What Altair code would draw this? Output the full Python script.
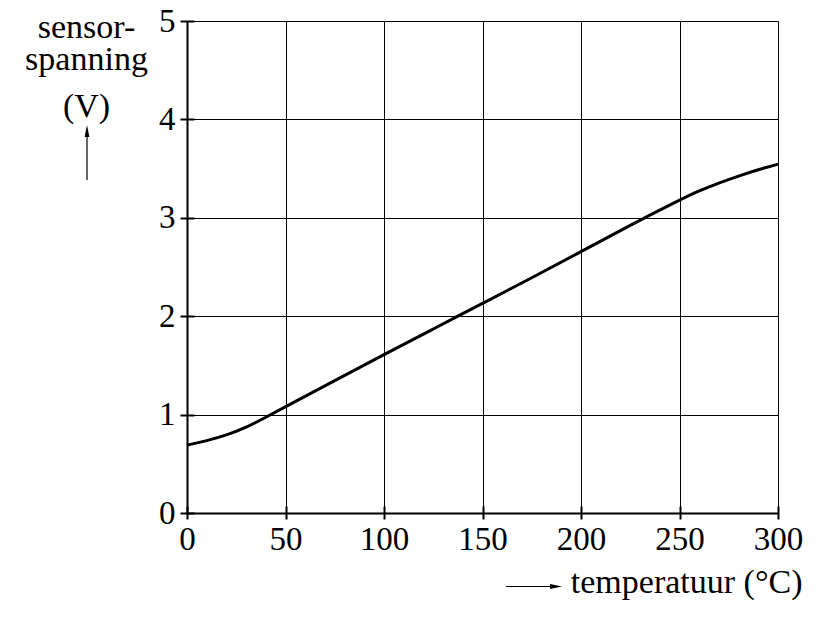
import pandas as pd
import altair as alt

# curve
temperature = [0, 10, 20, 30, 40, 50, 75, 100, 125, 150, 175, 200, 225, 250, 260, 270, 280, 290, 300]
voltage = [0.69, 0.733, 0.79, 0.868, 0.972, 1.08, 1.345, 1.61, 1.87, 2.13, 2.39, 2.655, 2.925,
           3.18, 3.275, 3.355, 3.425, 3.49, 3.545]
x_ticks = [0, 50, 100, 150, 200, 250, 300]
y_ticks = [0, 1, 2, 3, 4, 5]
y_title = ["sensor-", "spanning", "(V)"]
x_title = "temperatuur (°C)"

FONT = "Liberation Serif"
W, H = 591, 492

df = pd.DataFrame({"t": temperature, "v": voltage})
one = pd.DataFrame({"k": [0]})  # single row for the annotation marks

xscale = alt.Scale(domain=[0, 300], nice=False)
yscale = alt.Scale(domain=[0, 5], nice=False)

base = alt.Chart(df)

curve = base.mark_line(color="black", strokeWidth=3, interpolate="basis").encode(
    x=alt.X("t:Q", scale=xscale,
            axis=alt.Axis(values=x_ticks, title=x_title, titleX=615, titleY=79,
                          titleAlign="right", titleBaseline="alphabetic",
                          titleFontWeight="normal", labelPadding=4, tickSize=6)),
    y=alt.Y("v:Q", scale=yscale,
            axis=alt.Axis(values=y_ticks, title=None, labelPadding=5, tickSize=7)),
)

# second set of axes, only for the tick parts that point into the plot
inner = base.mark_line(opacity=0).encode(
    x=alt.X("t:Q", scale=xscale,
            axis=alt.Axis(orient="top", offset=-H, values=x_ticks, labels=False,
                          domain=False, grid=False, title=None, tickSize=7)),
    y=alt.Y("v:Q", scale=yscale,
            axis=alt.Axis(orient="right", offset=-W, values=y_ticks, labels=False,
                          domain=False, grid=False, title=None, tickSize=7)),
)

# y title, line by line
title_lines = []
for line, ypos in zip(y_title, [17, 49, 96]):
    title_lines.append(
        alt.Chart(one).mark_text(font=FONT, fontSize=34, align="center", baseline="alphabetic",
                                 color="black").encode(
            x=alt.value(-100.5), y=alt.value(ypos), text=alt.value(line))
    )

# arrows next to the titles
up_shaft = alt.Chart(one).mark_rule(color="black", strokeWidth=1.2).encode(
    x=alt.value(-100), y=alt.value(110), y2=alt.value(159))
up_head = alt.Chart(one).mark_point(shape="M0,-1L0.4,1L-0.4,1Z", filled=True, color="black",
                                    opacity=1, size=144).encode(
    x=alt.value(-100), y=alt.value(110))
right_shaft = alt.Chart(one).mark_rule(color="black", strokeWidth=1.2).encode(
    x=alt.value(319), x2=alt.value(370), y=alt.value(565.5))
right_head = alt.Chart(one).mark_point(shape="M1,0L-1,-0.4L-1,0.4Z", filled=True, color="black",
                                       opacity=1, size=144).encode(
    x=alt.value(369), y=alt.value(565.5))

chart = alt.layer(curve, inner, *title_lines, up_shaft, up_head, right_shaft, right_head).resolve_axis(
    x="independent", y="independent"
).properties(
    width=W, height=H,
    autosize=alt.AutoSizeParams(type="none"),
    padding={"left": 179, "top": 13, "right": 41, "bottom": 105},
    background="white",
).configure_view(
    stroke=None
).configure_axis(
    labelFont=FONT, titleFont=FONT, labelFontSize=33, titleFontSize=34,
    labelColor="black", titleColor="black",
    domainColor="black", domainWidth=2,
    tickColor="black", tickWidth=2,
    gridColor="black", gridWidth=1, gridOpacity=1,
    labelFlush=False, labelOverlap=False,
)

chart.save("out.html", embed_options={"renderer": "svg", "actions": False})
